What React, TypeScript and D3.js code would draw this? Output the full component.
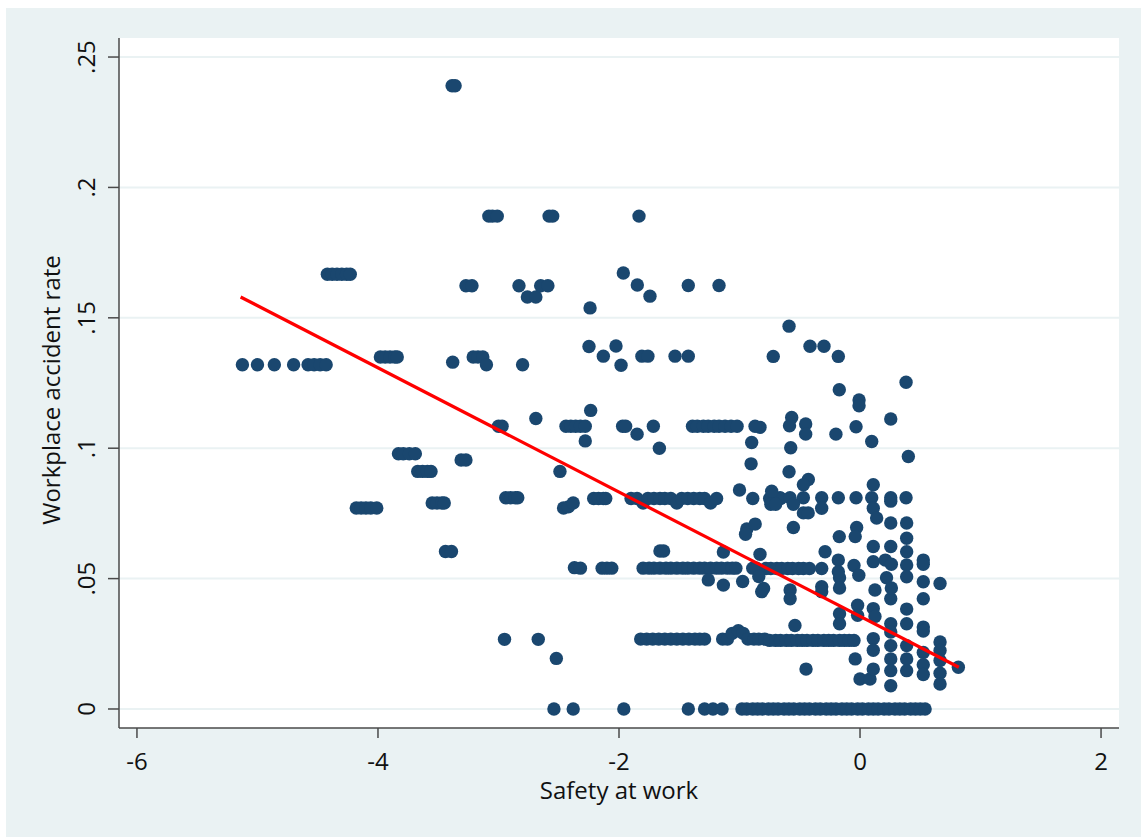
import React from 'react';
import * as d3 from 'd3';

// x ticks / y ticks as Stata prints them
const xTicks = [-6, -4, -2, 0, 2];
const yTicks = [0, 0.05, 0.1, 0.15, 0.2, 0.25];
const yTickLabels = ['0', '.05', '.1', '.15', '.2', '.25'];

// scatter points [safety, accident rate]
const upperPoints: [number, number][] = [
	[-3.385, .239], [-3.36, .239],
	[-3.08, .189], [-3.05, .189], [-3.01, .189], [-2.58, .189], [-2.55, .189], [-1.834, .189],
	[-4.42, .1667], [-4.38, .1667], [-4.34, .1667], [-4.30, .1667], [-4.26, .1667], [-4.23, .1667],
	[-3.27, .1623], [-3.22, .1623], [-2.83, .1623], [-2.76, .158], [-2.69, .158], [-2.65, .1623], [-2.59, .1623],
	[-1.964, .1672], [-1.848, .1626], [-1.743, .1583], [-2.24, .1538], [-1.425, .1624], [-1.17, .1624],
	[-0.589, .1468],
	[-2.249, .139], [-2.025, .1392], [-2.13, .1353], [-1.983, .1318], [-1.81, .1353], [-1.76, .1353],
	[-1.535, .1353], [-1.425, .1353], [-0.72, .1352],
	[-0.415, .1391], [-0.299, .1391], [-0.18, .1352], [0.382, .1253], [-0.172, .1224], [-0.008, .1185], [-0.008, .1163],
	[0.255, .1112], [-0.567, .1118], [-0.585, .1086], [-0.451, .1093], [-0.451, .1054], [-0.2, .1054],
	[-0.033, .1082], [0.097, .1026], [0.401, .0968], [-0.575, .1002], [-0.589, .091], [-0.83, .108],
	[-5.125, .132], [-5.0, .132], [-4.86, .132], [-4.70, .132], [-4.58, .132], [-4.53, .132], [-4.48, .132], [-4.43, .132],
	[-3.98, .135], [-3.94, .135], [-3.90, .135], [-3.86, .135], [-3.84, .135],
	[-3.38, .133], [-3.21, .135], [-3.17, .135], [-3.13, .135], [-3.10, .132], [-2.80, .132],
	[-3.0, .1084], [-2.97, .1084], [-2.69, .1114],
	[-2.44, .1084], [-2.40, .1084], [-2.36, .1084], [-2.32, .1084], [-2.28, .1084], [-1.97, .1084], [-1.945, .1084],
	[-1.85, .1054], [-1.715, .1084], [-1.39, .1084], [-1.35, .1084], [-1.30, .1084], [-1.26, .1084], [-1.21, .1084],
	[-1.17, .1084], [-1.12, .1084], [-1.07, .1084], [-1.02, .1084], [-0.871, .1084],
	[-2.235, .1145], [-2.28, .1028], [-1.665, .1], [-0.899, .1022], [-0.904, .094], [-2.49, .0911],
	[-3.83, .0979], [-3.79, .0979], [-3.74, .0979], [-3.69, .0979],
	[-3.67, .0911], [-3.63, .0911], [-3.59, .0911], [-3.56, .0911],
	[-3.31, .0955], [-3.27, .0955],
];

const middlePoints: [number, number][] = [
	[-4.18, .0771], [-4.14, .0771], [-4.10, .0771], [-4.06, .0771], [-4.01, .0771],
	[-3.55, .079], [-3.51, .079], [-3.47, .079], [-3.45, .079],
	[-2.94, .081], [-2.90, .081], [-2.86, .081], [-2.84, .081],
	[-2.46, .0771], [-2.42, .0775], [-2.38, .079],
	[-2.21, .0807], [-2.17, .0807], [-2.13, .0807], [-2.11, .0807],
	[-1.90, .0807], [-1.85, .0807], [-1.80, .079], [-1.76, .0807], [-1.71, .0807], [-1.66, .0807], [-1.62, .0807],
	[-1.57, .0807], [-1.52, .079], [-1.48, .0807], [-1.43, .0807], [-1.38, .0807], [-1.33, .0807], [-1.29, .0807],
	[-1.24, .079], [-1.19, .0807],
	[-1.0, .084], [-0.89, .0807], [-0.75, .0807], [-0.70, .0807], [-0.66, .0807],
	[-0.94, .069], [-0.87, .0709], [-0.95, .067],
	[-0.733, .081], [-0.664, .081], [-0.581, .081], [-0.47, .081], [-0.318, .081], [-0.18, .081],
	[-0.033, .081], [0.097, .081], [0.255, .081], [0.382, .081],
	[-0.733, .0835], [-0.429, .088], [-0.47, .086], [0.11, .086], [-0.74, .0785], [-0.70, .0785], [-0.553, .0785],
	[-0.318, .077], [0.11, .077], [0.255, .0797], [-0.47, .0752], [-0.43, .0752], [0.138, .0732], [0.255, .0713],
	[0.387, .0713], [-0.553, .0696], [-0.172, .0661], [-0.028, .0696], [-0.04, .0661], [0.387, .0655], [0.387, .0603],
	[0.11, .0623], [0.255, .0623], [-0.29, .0603],
	[-3.44, .0604], [-3.39, .0604], [-1.66, .0606], [-1.63, .0606], [-1.134, .0602], [-0.83, .0593],
];

const row054Points: [number, number][] = [
	[-2.37, .0542], [-2.32, .054], [-2.14, .054], [-2.10, .054], [-2.06, .054],
	[-1.80, .054], [-1.75, .054], [-1.71, .054], [-1.66, .054], [-1.61, .054], [-1.57, .054], [-1.52, .054],
	[-1.47, .054], [-1.43, .054], [-1.38, .054], [-1.33, .054], [-1.29, .054], [-1.24, .054], [-1.19, .054],
	[-1.15, .054], [-1.10, .054], [-1.06, .054], [-1.03, .054],
	[-0.89, .054], [-0.86, .054],
	[-0.78, .0539], [-0.74, .0539], [-0.69, .0539], [-0.65, .0539], [-0.60, .0539], [-0.56, .0539],
	[-0.51, .0539], [-0.47, .0539], [-0.42, .0539], [-0.318, .0539],
	[-1.259, .0495], [-1.134, .0475], [-0.974, .0489], [-0.84, .0508], [-0.816, .045], [-0.8, .0462],
	[-0.58, .0456], [-0.58, .0423], [-0.318, .0469], [-0.318, .045], [-0.17, .0503], [-0.17, .0464],
	[0.124, .0456], [0.255, .0423], [0.525, .0488], [0.525, .0423], [0.664, .0481],
	[0.525, .0571], [0.525, .0555], [0.11, .0565], [-0.18, .0571], [-0.18, .0526], [-0.05, .055], [-0.01, .0513],
	[0.21, .0571], [0.26, .0555], [0.22, .0503], [0.26, .0464], [0.387, .0552], [0.387, .0507],
];

const lowerPoints: [number, number][] = [
	[-2.95, .0267], [-2.67, .0267], [-2.52, .0194],
	[-1.82, .0268], [-1.77, .0268], [-1.72, .0268], [-1.67, .0268], [-1.62, .0268], [-1.57, .0268], [-1.52, .0268],
	[-1.47, .0268], [-1.42, .0268], [-1.37, .0268], [-1.33, .0268], [-1.29, .0268],
	[-1.14, .0268], [-1.10, .0268], [-1.06, .029], [-1.01, .030], [-0.97, .029], [-0.93, .0268], [-0.88, .0268],
	[-0.84, .0268], [-0.79, .0268],
	[-0.75, .0263], [-0.70, .0263], [-0.66, .0263], [-0.61, .0263], [-0.57, .0263], [-0.52, .0263], [-0.48, .0263],
	[-0.44, .0263], [-0.39, .0263], [-0.35, .0263], [-0.30, .0263], [-0.26, .0263], [-0.22, .0263], [-0.17, .0263],
	[-0.13, .0263], [-0.09, .0263], [-0.05, .0263],
	[-0.54, .032], [-0.17, .0365], [-0.17, .0327], [-0.02, .0398], [-0.02, .0359], [0.11, .0385], [0.124, .0355],
	[0.255, .0327], [0.255, .0295], [0.387, .0383], [0.387, .0327], [0.525, .0314], [0.525, .0299],
	[0.664, .0257], [0.664, .0224], [0.816, .016],
	[0.11, .027], [0.11, .0225], [0.255, .0243], [0.255, .0192], [0.255, .0147], [0.387, .0243], [0.387, .0192],
	[0.387, .0147], [0.525, .0217], [0.525, .017], [0.525, .0132], [0.664, .0186], [0.664, .0137], [-0.04, .0192],
	[-0.448, .0153], [0, .0115], [0.083, .0115], [0.11, .0153], [0.255, .0089], [0.664, .0096],
];

// x values of the observations with zero accidents
const zeroRowX = [
	-2.54, -2.38, -1.96, -1.425, -1.29, -1.22, -1.145,
	-0.98, -0.94, -0.89, -0.85, -0.81, -0.76, -0.72, -0.68, -0.63, -0.59, -0.55, -0.50, -0.46, -0.42,
	-0.37, -0.33, -0.28, -0.24, -0.20, -0.15, -0.11, -0.07, -0.02, 0.02, 0.07, 0.11, 0.15, 0.20, 0.24,
	0.29, 0.33, 0.37, 0.42, 0.46, 0.50, 0.54,
];

// linear fit, end points
const fitX = [-5.14, 0.82];
const fitY = [0.158, 0.016];

const W = 1141;
const H = 837;
const M = { left: 119, right: 1119, top: 38, bottom: 728 };
const BG = '#eaf2f3';
const NAVY = '#1a476f';
const FONT = '"Open Sans", Lato, sans-serif';

export default function App() {
	const x = d3.scaleLinear().domain([-6.149, 2.149]).range([M.left, M.right]);
	const y = d3.scaleLinear().domain([-0.00729, 0.2573]).range([M.bottom, M.top]);

	const points: [number, number][] = [
		...upperPoints, ...middlePoints, ...row054Points, ...lowerPoints,
		...zeroRowX.map(v => [v, 0] as [number, number]),
	];

	const fit = d3.line<number>().x(d => x(fitX[d])).y(d => y(fitY[d]));

	return (
		<div style={{ position: 'absolute', left: 0, top: 0 }}>
			<svg width={W} height={H} style={{ display: 'block', fontFamily: FONT }}>
				<rect x={0} y={0} width={W} height={H} fill="#ffffff" />
				<rect x={6} y={8} width={W - 6} height={H - 8} fill={BG} />
				<rect x={M.left} y={M.top} width={M.right - M.left} height={M.bottom - M.top} fill="#ffffff" />

				{/* grid */}
				{yTicks.map(t => (
					<line key={'g' + t} x1={M.left} x2={M.right} y1={y(t)} y2={y(t)} stroke={BG} strokeWidth={2} />
				))}

				{/* points */}
				<g fill={NAVY}>
					{points.map((p, i) => (
						<circle key={i} cx={x(p[0])} cy={y(p[1])} r={6.7} />
					))}
				</g>

				<path d={fit([0, 1]) || ''} fill="none" stroke="#ff0000" strokeWidth={3.2} />

				{/* axes */}
				<line x1={M.left} x2={M.left} y1={M.top} y2={M.bottom} stroke="#4a4a4a" strokeWidth={1.5} />
				<line x1={M.left} x2={M.right} y1={M.bottom} y2={M.bottom} stroke="#4a4a4a" strokeWidth={1.5} />

				{yTicks.map((t, i) => (
					<g key={'y' + t}>
						<line x1={M.left - 11} x2={M.left} y1={y(t)} y2={y(t)} stroke="#4a4a4a" strokeWidth={1.5} />
						<text transform={`translate(95, ${y(t)}) rotate(-90)`} textAnchor="middle" fontSize={24} fill="#111">
							{yTickLabels[i]}
						</text>
					</g>
				))}
				{xTicks.map(t => (
					<g key={'x' + t}>
						<line x1={x(t)} x2={x(t)} y1={M.bottom} y2={M.bottom + 10} stroke="#4a4a4a" strokeWidth={1.5} />
						<text x={x(t)} y={770} textAnchor="middle" fontSize={24} fill="#111">{t}</text>
					</g>
				))}

				<text x={(M.left + M.right) / 2} y={799} textAnchor="middle" fontSize={24} fill="#111">Safety at work</text>
				<text transform="translate(60, 390) rotate(-90)" textAnchor="middle" fontSize={24} fill="#111">
					Workplace accident rate
				</text>
			</svg>
		</div>
	);
}
